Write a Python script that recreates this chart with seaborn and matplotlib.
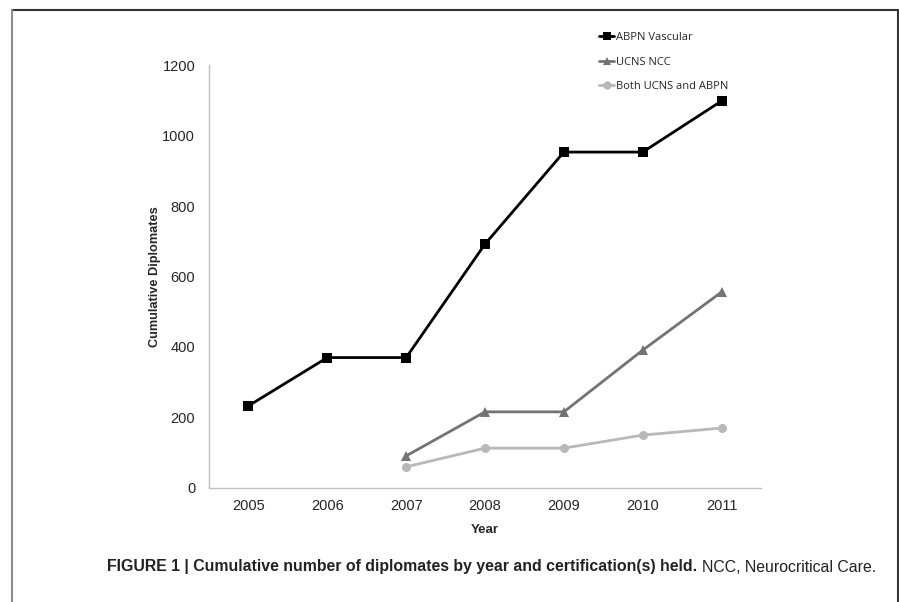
import pandas as pd
import matplotlib.pyplot as plt
from matplotlib.lines import Line2D
import seaborn as sns

sns.set_style("white")
plt.rcParams['font.family'] = ['Liberation Sans', 'DejaVu Sans']

years = [2005, 2006, 2007, 2008, 2009, 2010, 2011]
abpn_vascular = [233, 370, 370, 692, 953, 953, 1098]
ucns_years = [2007, 2008, 2009, 2010, 2011]
ucns_ncc = [91, 216, 216, 391, 556]
both = [60, 113, 113, 150, 170]
series_names = ['ABPN Vascular', 'UCNS NCC', 'Both UCNS and ABPN']

df = pd.concat([
    pd.DataFrame({'Year': years, 'value': abpn_vascular, 'series': series_names[0]}),
    pd.DataFrame({'Year': ucns_years, 'value': ucns_ncc, 'series': series_names[1]}),
    pd.DataFrame({'Year': ucns_years, 'value': both, 'series': series_names[2]}),
])

palette = {series_names[0]: '#000000', series_names[1]: '#737373', series_names[2]: '#b8b8b8'}
markers = {series_names[0]: 's', series_names[1]: '^', series_names[2]: 'o'}

fig = plt.figure(figsize=(8.99, 6.02), dpi=100)
ax = fig.add_axes([0.2325, 0.1894, 0.614, 0.7026])

sns.lineplot(data=df, x='Year', y='value', hue='series', style='series',
             palette=palette, markers=markers, dashes=False, markersize=6.5,
             markeredgewidth=0, linewidth=2, ax=ax, legend=False)

ax.set_xlim(2004.5, 2011.5)
ax.set_ylim(0, 1200)
ax.set_xticks(years)
ax.set_xticks([y - 0.5 for y in years] + [2011.5], minor=True)
ax.set_yticks(range(0, 1201, 200))
ax.tick_params(axis='x', which='major', length=0, labelsize=10.5, pad=8)
ax.tick_params(axis='x', which='minor', length=4, color='#bfbfbf', width=1)
ax.tick_params(axis='y', length=4, color='#bfbfbf', width=1, labelsize=10.5, pad=6)
for s in ['top', 'right']:
    ax.spines[s].set_visible(False)
for s in ['left', 'bottom']:
    ax.spines[s].set_color('#bfbfbf')
    ax.spines[s].set_linewidth(1)
ax.set_xlabel('Year', fontsize=9.5, fontweight='bold', labelpad=8)
ax.set_ylabel('Cumulative Diplomates', fontsize=9.2, fontweight='bold', labelpad=1)

handles = [Line2D([], [], color=palette[n], marker=markers[n], markersize=6,
                  markeredgewidth=0, linewidth=2) for n in series_names]
fig.legend(handles, series_names, loc='upper left', bbox_to_anchor=(0.655, 0.963),
           frameon=False, handlelength=1.4, handletextpad=0.1, labelspacing=1.2,
           prop={'family': 'Open Sans', 'size': 8})

# page frame
fig.add_artist(Line2D([12 / 899, 898 / 899], [1 - 10 / 602, 1 - 10 / 602],
                      transform=fig.transFigure, color='#333333', linewidth=1.5))
fig.add_artist(Line2D([12 / 899, 12 / 899], [0, 1 - 10 / 602],
                      transform=fig.transFigure, color='#8c8c8c', linewidth=1.5))
fig.add_artist(Line2D([898 / 899, 898 / 899], [0, 1 - 10 / 602],
                      transform=fig.transFigure, color='#333333', linewidth=1.5))

# caption
t1 = fig.text(107 / 899, 1 - 567 / 602, 'FIGURE 1 | Cumulative number of diplomates by year and certification(s) held.',
              fontsize=11.4, fontweight='bold', color='#222222', va='center')
fig.canvas.draw()
bb = t1.get_window_extent()
fig.text((bb.x1 + 5) / 899, 1 - 567 / 602, 'NCC, Neurocritical Care.',
         fontsize=11.4, color='#222222', va='center')

fig.savefig('out.png', dpi=100)
